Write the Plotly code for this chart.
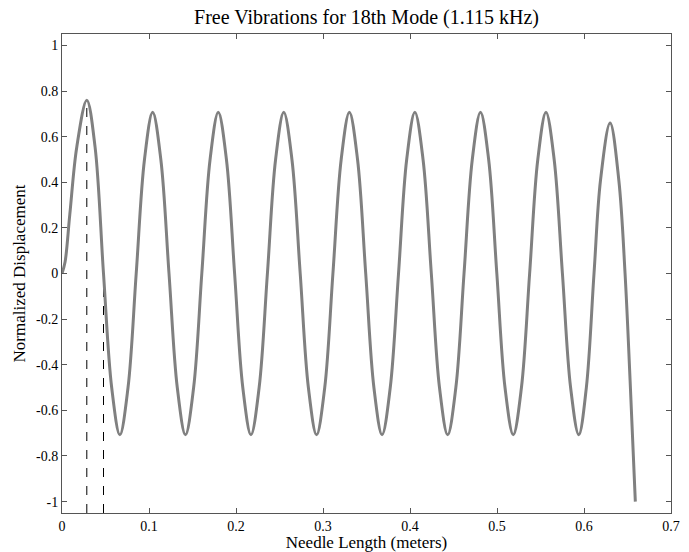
import plotly.graph_objects as go

# Mode shape points (x in meters, normalized displacement)
x_pts = [0.0, 0.0035, 0.009, 0.017, 0.0285, 0.038, 0.0477,
         0.0571, 0.0665, 0.0759, 0.0853, 0.0948, 0.1042, 0.1136, 0.1230,
         0.1325, 0.1419, 0.1513, 0.1607, 0.1702, 0.1796, 0.1890, 0.1984,
         0.2078, 0.2172, 0.2266, 0.2361, 0.2455, 0.2549, 0.2643, 0.2738,
         0.2832, 0.2926, 0.3020, 0.3114, 0.3209, 0.3303, 0.3397, 0.3491,
         0.3585, 0.3679, 0.3773, 0.3868, 0.3962, 0.4056, 0.4150, 0.4245,
         0.4339, 0.4433, 0.4527, 0.4621, 0.4716, 0.4810, 0.4904, 0.4998,
         0.5092, 0.5187, 0.5281, 0.5375, 0.5469, 0.5563, 0.5657, 0.5752,
         0.5846, 0.5940, 0.6027, 0.6115, 0.6190, 0.6300, 0.6400, 0.6472,
         0.6530, 0.6590]
y_pts = [0.0, 0.05, 0.26, 0.555, 0.76, 0.555, 0.0,
         -0.5, -0.707, -0.5, 0.0, 0.5, 0.707, 0.5, 0.0,
         -0.5, -0.707, -0.5, 0.0, 0.5, 0.707, 0.5, 0.0,
         -0.5, -0.707, -0.5, 0.0, 0.5, 0.707, 0.5, 0.0,
         -0.5, -0.707, -0.5, 0.0, 0.5, 0.707, 0.5, 0.0,
         -0.5, -0.707, -0.5, 0.0, 0.5, 0.707, 0.5, 0.0,
         -0.5, -0.707, -0.5, 0.0, 0.5, 0.707, 0.5, 0.0,
         -0.5, -0.707, -0.5, 0.0, 0.5, 0.707, 0.5, 0.0,
         -0.5, -0.707, -0.5, 0.0, 0.41, 0.66, 0.41, 0.0,
         -0.47, -1.0]

# Dashed marker lines (x position, top of line)
dash_x = [0.0285, 0.0477]
dash_top = [0.76, 0.0]
y_bottom = -1.05

x_ticks = [0, 0.1, 0.2, 0.3, 0.4, 0.5, 0.6, 0.7]
x_ticklabels = ["0", "0.1", "0.2", "0.3", "0.4", "0.5", "0.6", "0.7"]
y_ticks = [-1, -0.8, -0.6, -0.4, -0.2, 0, 0.2, 0.4, 0.6, 0.8, 1]
y_ticklabels = ["-1", "-0.8", "-0.6", "-0.4", "-0.2", "0", "0.2", "0.4", "0.6", "0.8", "1"]

font_family = "Liberation Serif, Times New Roman, serif"

fig = go.Figure()

dx, dy = [], []
for xv, top in zip(dash_x, dash_top):
    dx += [xv, xv, None]
    dy += [y_bottom, top, None]
fig.add_trace(go.Scatter(x=dx, y=dy, mode="lines",
                         line=dict(color="black", width=1, dash="dash"),
                         hoverinfo="skip", showlegend=False))

fig.add_trace(go.Scatter(x=x_pts, y=y_pts, mode="lines",
                         line=dict(color="#808080", width=3, shape="spline", smoothing=1.0),
                         showlegend=False))

axis_common = dict(showgrid=False, zeroline=False, showline=True, mirror="ticks",
                   linecolor="#555555", linewidth=1, ticks="inside", ticklen=5,
                   tickcolor="#555555", automargin=False,
                   tickfont=dict(family=font_family, size=14, color="black"))

fig.update_layout(
    width=689, height=552,
    margin=dict(l=62, r=18, t=34, b=39, autoexpand=False),
    paper_bgcolor="white", plot_bgcolor="white",
    font=dict(family=font_family, color="black"),
    title=dict(text="Free Vibrations for 18th Mode (1.115 kHz)", x=0.5, xref="paper",
               xanchor="center", y=1 - 17 / 552, yref="container", yanchor="middle",
               font=dict(family=font_family, size=20, color="black")),
    xaxis=dict(range=[0, 0.7], tickvals=x_ticks, ticktext=x_ticklabels,
               title=dict(text="Needle Length (meters)", standoff=5,
                          font=dict(family=font_family, size=17, color="black")),
               **axis_common),
    yaxis=dict(range=[-1.05, 1.05], tickvals=y_ticks, ticktext=y_ticklabels,
               title=dict(text="Normalized Displacement", standoff=6,
                          font=dict(family=font_family, size=17, color="black")),
               **axis_common),
)

fig.write_html("out.html", config={"displayModeBar": False},
               post_script="document.body.style.margin='0';document.body.style.padding='0';"
                           "document.body.style.overflow='hidden';")
